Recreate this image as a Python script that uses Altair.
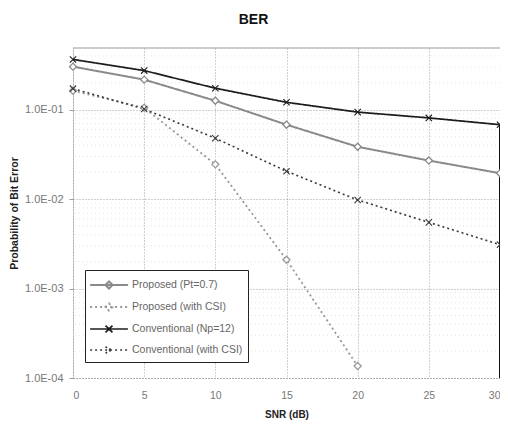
import altair as alt
import pandas as pd

# ---------------- data ----------------
SNR = [0, 5, 10, 15, 20, 25, 30]
SNR_CSI_PROP = [0, 5, 10, 15, 20]
PROPOSED_PT07 = [0.303, 0.217, 0.126, 0.068, 0.0385, 0.027, 0.0195]
PROPOSED_CSI = [0.163, 0.105, 0.0245, 0.0021, 0.000136]
CONV_NP12 = [0.365, 0.274, 0.174, 0.121, 0.094, 0.081, 0.068]
CONV_CSI = [0.172, 0.102, 0.048, 0.0205, 0.0098, 0.0055, 0.0031]

SERIES = ["Proposed (Pt=0.7)", "Proposed (with CSI)",
          "Conventional (Np=12)", "Conventional (with CSI)"]
COLORS = ["#8a8a8a", "#999999", "#1c1c1c", "#3a3a3a"]
DASHES = [[1, 0], [2, 3], [1, 0], [2, 3]]
WIDTHS = [2.0, 1.6, 2.6, 1.6]

Y_TICKS = [1e-4, 1e-3, 1e-2, 1e-1]
X_TICKS = [0, 5, 10, 15, 20, 25, 30]
Y_MIN, Y_MAX = 1e-4, 0.49
MINOR = [m * 10.0 ** e for e in (-4, -3, -2, -1) for m in range(2, 10) if m * 10.0 ** e < Y_MAX]
RIGHT_EDGE_X = [30]
RIGHT_EDGE_TOP = [0.066]

X_PATH = "M-1,-1L1,1M-1,1L1,-1"
LEG_DIAMOND = "M-2.1,0L2.1,0M0,-0.4L0.4,0L0,0.4L-0.4,0Z"
LEG_X = "M-2.1,0L2.1,0M-0.38,-0.38L0.38,0.38M-0.38,0.38L0.38,-0.38"
LEG_SHAPES = [LEG_DIAMOND, LEG_DIAMOND, LEG_X, LEG_X]

# ---------------- tables ----------------
rows = []
for name, xs, ys in [(SERIES[0], SNR, PROPOSED_PT07),
                     (SERIES[1], SNR_CSI_PROP, PROPOSED_CSI),
                     (SERIES[2], SNR, CONV_NP12),
                     (SERIES[3], SNR, CONV_CSI)]:
    for x, y in zip(xs, ys):
        rows.append({"snr": x, "ber": y, "series": name})
df = pd.DataFrame(rows)
minor_df = pd.DataFrame({"v": MINOR})
top_df = pd.DataFrame({"v": [Y_MAX]})
edge_df = pd.DataFrame({"x": RIGHT_EDGE_X, "top": RIGHT_EDGE_TOP, "bottom": [Y_MIN]})

FONT = "Liberation Sans"

xscale = alt.Scale(domain=[0, 30], nice=False, zero=False)
yscale = alt.Scale(type="log", domain=[Y_MIN, Y_MAX], nice=False)

x_enc = alt.X("snr:Q", scale=xscale,
              axis=alt.Axis(values=X_TICKS, title="SNR (dB)", grid=True,
                            gridDash=[1, 2], gridColor="#888", gridWidth=0.8,
                            domainDash=[1, 2], domainColor="#888",
                            tickSize=0, labelPadding=12, labelColor="#777",
                            labelFontSize=10.5, labelFont=FONT, labelFlush=True,
                            titleFont=FONT, titleFontSize=10, titleFontWeight="bold",
                            titleColor="#222", titlePadding=9))
y_enc = alt.Y("ber:Q", scale=yscale,
              axis=alt.Axis(values=Y_TICKS, title="Probability of Bit Error",
                            labelExpr="'1.0E-0' + format(-log(datum.value)/LN10, '.0f')",
                            grid=True, gridDash=[1, 2], gridColor="#888", gridWidth=0.8,
                            domainDash=[1, 2], domainColor="#888",
                            tickSize=4, tickColor="#999", labelPadding=6,
                            labelColor="#777", labelFontSize=11, labelFont=FONT,
                            titleFont=FONT, titleFontSize=10.5, titleFontWeight="bold",
                            titleColor="#222", titlePadding=5))

color_scale = alt.Scale(domain=SERIES, range=COLORS)
dash_scale = alt.Scale(domain=SERIES, range=DASHES)
width_scale = alt.Scale(domain=SERIES, range=WIDTHS)
shape_scale = alt.Scale(domain=SERIES, range=LEG_SHAPES)

leg = alt.Legend(title=None, orient="none", legendX=12, legendY=222,
                 fillColor="#ffffff", strokeColor="#222", padding=5,
                 symbolSize=324, symbolOffset=9, labelOffset=13, rowPadding=4,
                 labelFont=FONT, labelFontSize=10.5, labelColor="#666",
                 symbolOpacity=1, symbolFillColor="transparent")

minor = alt.Chart(minor_df).mark_rule(color="#dddddd", strokeDash=[1, 3], strokeWidth=0.8).encode(
    y=alt.Y("v:Q", scale=yscale))
top = alt.Chart(top_df).mark_rule(color="#999", strokeWidth=1).encode(
    y=alt.Y("v:Q", scale=yscale))
edge = alt.Chart(edge_df).mark_rule(color="#111", strokeWidth=2).encode(
    x=alt.X("x:Q", scale=xscale), y=alt.Y("bottom:Q", scale=yscale), y2="top:Q")

lines = alt.Chart(df).mark_line().encode(
    x=x_enc, y=y_enc,
    color=alt.Color("series:N", scale=color_scale, legend=leg),
    strokeDash=alt.StrokeDash("series:N", scale=dash_scale, legend=leg),
    strokeWidth=alt.StrokeWidth("series:N", scale=width_scale, legend=leg),
    order="snr:Q")

diamonds = alt.Chart(df).transform_filter(
    alt.FieldOneOfPredicate(field="series", oneOf=SERIES[:2])
).mark_point(shape="diamond", size=50, strokeWidth=1.3, filled=False, fill="#ffffff", fillOpacity=1,
             opacity=1).encode(
    x=alt.X("snr:Q", scale=xscale), y=alt.Y("ber:Q", scale=yscale),
    color=alt.Color("series:N", scale=color_scale, legend=leg))

crosses = alt.Chart(df).transform_filter(
    alt.FieldOneOfPredicate(field="series", oneOf=SERIES[2:])
).mark_point(shape=X_PATH, size=40, strokeWidth=1.1, opacity=1).encode(
    x=alt.X("snr:Q", scale=xscale), y=alt.Y("ber:Q", scale=yscale),
    color=alt.Color("series:N", scale=color_scale, legend=leg))

legend_layer = alt.Chart(df).mark_point(opacity=0, filled=False).encode(
    x=alt.X("snr:Q", scale=xscale), y=alt.Y("ber:Q", scale=yscale),
    color=alt.Color("series:N", scale=color_scale, legend=leg),
    shape=alt.Shape("series:N", scale=shape_scale, legend=leg),
    strokeDash=alt.StrokeDash("series:N", scale=dash_scale, legend=leg),
    strokeWidth=alt.StrokeWidth("series:N", scale=width_scale, legend=leg))

chart = alt.layer(minor, top, lines, edge, diamonds, crosses, legend_layer).properties(
    width=427, height=330,
    autosize=alt.AutoSizeParams(type="none"),
    padding={"left": 65, "top": 40, "right": 0, "bottom": 42},
    title=alt.Title("BER", fontSize=14, fontWeight="bold", font=FONT, color="#111",
                    anchor="middle", dx=-33, offset=21),
).configure_view(stroke=None)

chart.save("out.html", embed_options={"renderer": "svg", "actions": False})
